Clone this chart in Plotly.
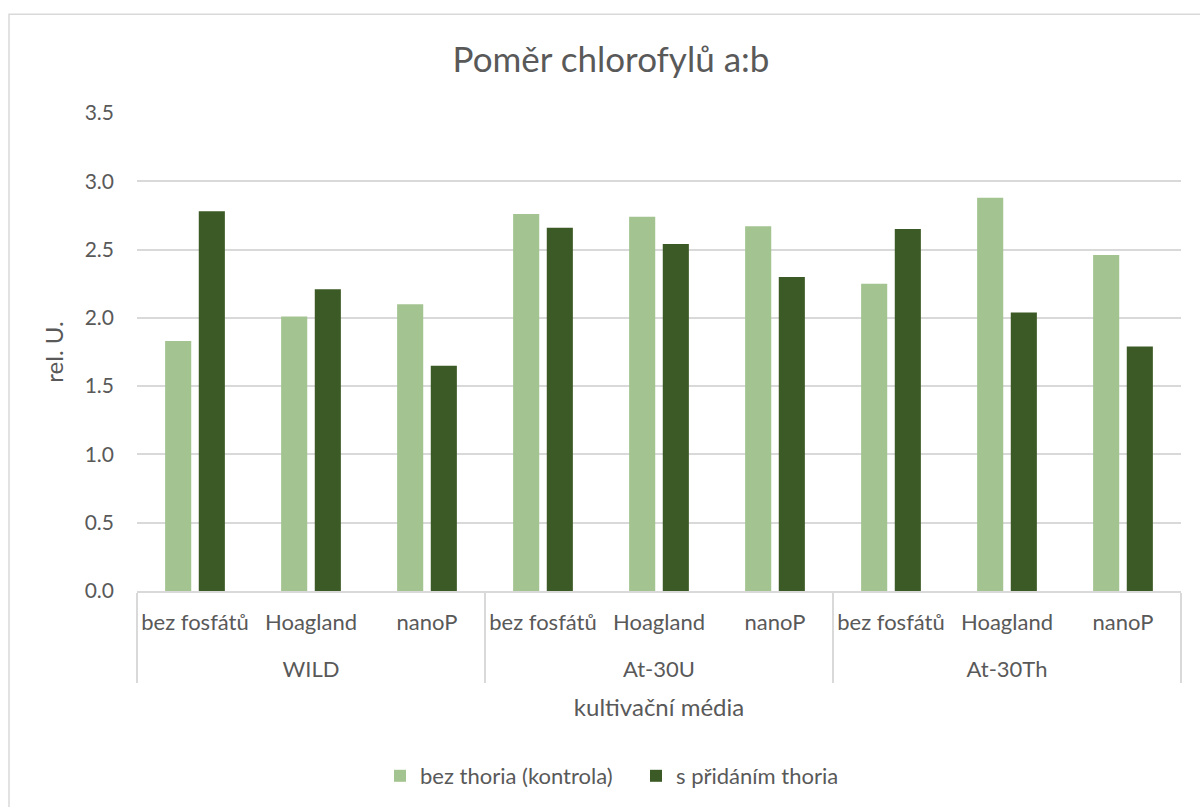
import plotly.graph_objects as go

groups = ["WILD", "WILD", "WILD", "At-30U", "At-30U", "At-30U", "At-30Th", "At-30Th", "At-30Th"]
media = ["bez fosfátů", "Hoagland", "nanoP"] * 3
control = [1.83, 2.01, 2.10, 2.76, 2.74, 2.67, 2.25, 2.88, 2.46]
thorium = [2.78, 2.21, 1.65, 2.66, 2.54, 2.30, 2.65, 2.04, 1.79]
series_names = ["bez thoria (kontrola)", "s přidáním thoria"]
y_ticks = [0.0, 0.5, 1.0, 1.5, 2.0, 2.5, 3.0, 3.5]

FONT = "Lato, 'Open Sans', sans-serif"
TXT = "#595959"

# inner labels get an empty second line so the group row sits lower (Excel style)
inner = [m + "<br> " for m in media]

fig = go.Figure()
fig.add_trace(go.Bar(x=[groups, inner], y=control, name=series_names[0],
                     marker=dict(color="#A3C490", line=dict(width=0))))
fig.add_trace(go.Bar(x=[groups, inner], y=thorium, name=series_names[1],
                     marker=dict(color="#3C5A25", line=dict(width=0))))

fig.update_layout(
    width=1200, height=807,
    margin=dict(l=137, r=19, t=113, b=215),
    paper_bgcolor="white", plot_bgcolor="white",
    font=dict(family=FONT, color=TXT, size=21),
    title=dict(text="Poměr chlorofylů a:b", x=611 / 1200, xanchor="center",
               y=1 - 60 / 807, yanchor="middle",
               font=dict(size=35, color=TXT, family=FONT)),
    barmode="group", bargap=0.42, bargroupgap=0.224,
    legend=dict(orientation="h", x=(636 - 137) / 1044, xanchor="center",
                y=-(776 - 592) / 479, yanchor="middle",
                font=dict(size=22, color=TXT), itemwidth=30, traceorder="normal",
                entrywidth=211, entrywidthmode="pixels"),
    showlegend=True,
)
fig.update_yaxes(range=[0, 3.5], tickvals=y_ticks, tickformat=".1f",
                 gridcolor="#D9D9D9", gridwidth=1.5, zeroline=False,
                 showline=False, ticks="", ticklabelstandoff=22,
                 tickfont=dict(size=21, color=TXT),
                 title=dict(text="rel. U.", font=dict(size=24, color=TXT), standoff=14))
fig.update_xaxes(type="multicategory", showline=True, linecolor="#D9D9D9", linewidth=1.5,
                 showdividers=True, dividercolor="#D9D9D9", dividerwidth=1.5,
                 ticks="", tickfont=dict(size=22, color=TXT), showgrid=False,
                 ticklabelstandoff=11,
                 title=dict(text="kultivační média", font=dict(size=24, color=TXT), standoff=18))

# outer chart border (extends beyond the visible page on right/bottom)
fig.add_shape(type="rect", xref="paper", yref="paper",
              x0=(9 - 137) / 1044, x1=1.2, y0=-0.6, y1=1 + (113 - 14) / 479,
              line=dict(color="#D9D9D9", width=1.5), fillcolor="rgba(0,0,0,0)", layer="below")

fig.write_html("out.html", config={"displayModeBar": False},
               post_script="document.body.style.margin='0';")
